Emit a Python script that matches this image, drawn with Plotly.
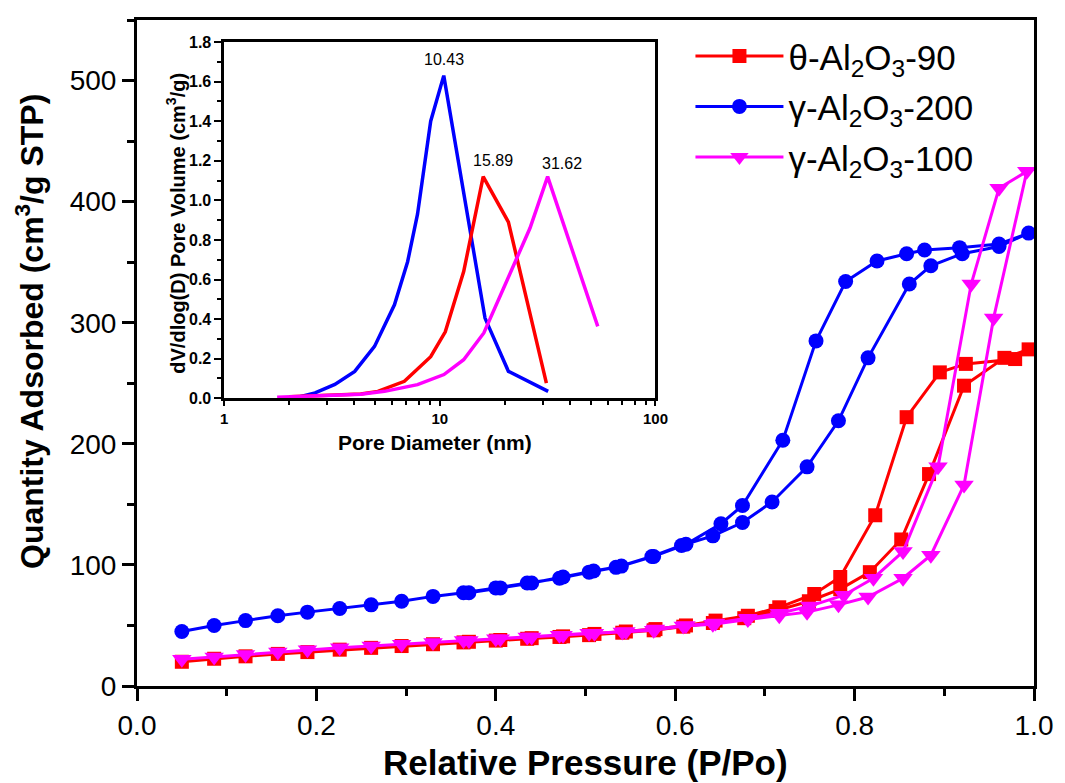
import plotly.graph_objects as go
import numpy as np

# ---------------- main isotherm data (P/Po, cm3/g STP) ----------------
theta90_ads_p = [0.050, 0.086, 0.121, 0.157, 0.190, 0.226, 0.261, 0.295, 0.330, 0.364, 0.400, 0.435, 0.471, 0.504,
                 0.541, 0.576, 0.609, 0.642, 0.677, 0.712, 0.749, 0.784, 0.817, 0.852, 0.883, 0.922, 0.967, 0.994]
theta90_ads_q = [20, 22.5, 24.5, 26.5, 28, 30, 31.5, 33, 34.5, 36, 37.5, 39, 40.5, 42,
                 44, 46, 49, 52, 56, 62, 70, 80, 94, 121, 175, 248, 271, 278]
theta90_des_p = [0.979, 0.924, 0.895, 0.858, 0.823, 0.784, 0.755, 0.716, 0.681, 0.645, 0.612, 0.578, 0.545,
                 0.510, 0.475, 0.440, 0.405, 0.370]
theta90_des_q = [270, 266, 259, 222, 141, 90, 76, 65, 58, 54, 50, 47, 45, 43, 41, 39.5, 38, 36.5]

gamma200_ads_p = [0.050, 0.086, 0.121, 0.157, 0.190, 0.226, 0.261, 0.295, 0.330, 0.364, 0.400, 0.435, 0.471, 0.504,
                  0.534, 0.574, 0.607, 0.642, 0.675, 0.708, 0.747, 0.782, 0.815, 0.861, 0.885, 0.920, 0.961, 0.994]
gamma200_ads_q = [45, 50, 54, 58, 61, 64, 67, 70, 74, 77, 81, 85, 89, 94,
                  98, 107, 116, 124, 135, 152, 181, 219, 271, 332, 347, 357, 363, 374]
gamma200_des_p = [0.961, 0.917, 0.878, 0.858, 0.825, 0.790, 0.757, 0.720, 0.675, 0.651, 0.612, 0.576, 0.540,
                  0.509, 0.475, 0.440, 0.405, 0.370]
gamma200_des_q = [365, 362, 360, 357, 351, 334, 285, 203, 149, 134, 117, 107, 99, 95, 90, 85, 81, 77]

gamma100_ads_p = [0.050, 0.086, 0.121, 0.157, 0.190, 0.226, 0.261, 0.295, 0.330, 0.364, 0.400, 0.435, 0.471, 0.504,
                  0.541, 0.576, 0.609, 0.642, 0.681, 0.716, 0.747, 0.782, 0.815, 0.854, 0.885, 0.922, 0.955, 0.992]
gamma100_ads_q = [22, 24, 26, 28, 30, 31.5, 33, 34.5, 36, 37.5, 39, 40.5, 42, 43.5,
                  44.5, 46, 49.5, 51, 55, 58, 61, 67, 73.5, 89, 108, 166, 304, 425]
gamma100_des_p = [0.961, 0.930, 0.893, 0.854, 0.821, 0.788, 0.750, 0.716, 0.681, 0.645, 0.612, 0.578, 0.545,
                  0.510, 0.475, 0.440, 0.405, 0.370]
gamma100_des_q = [411, 332, 181, 111, 89, 75, 66, 60, 56, 52, 50, 47, 45, 43.5, 42, 40.5, 39, 37.5]

# ---------------- inset pore size distribution ----------------
psd_d_gamma200 = [2.2, 2.64, 3.26, 4.03, 4.98, 6.16, 7.09, 7.88, 9.07, 10.43, 16.2, 20.8, 31.8]
psd_v_gamma200 = [0.005, 0.027, 0.07, 0.136, 0.262, 0.472, 0.69, 0.93, 1.40, 1.63, 0.405, 0.136, 0.035]
psd_d_theta90 = [2.0, 2.7, 3.5, 4.3, 5.16, 6.85, 9.07, 10.6, 12.9, 15.89, 20.8, 31.2]
psd_v_theta90 = [0.008, 0.012, 0.016, 0.022, 0.035, 0.086, 0.21, 0.336, 0.64, 1.12, 0.89, 0.077]
psd_d_gamma100 = [1.76, 3.0, 4.3, 5.54, 7.88, 10.45, 12.9, 16.0, 20.4, 26.2, 31.62, 54.0]
psd_v_gamma100 = [0.005, 0.012, 0.02, 0.035, 0.069, 0.12, 0.195, 0.33, 0.59, 0.86, 1.12, 0.363]
peak_d = [10.43, 15.89, 31.62]
peak_v = [1.63, 1.12, 1.12]

names = ["θ-Al<sub>2</sub>O<sub>3</sub>-90", "γ-Al<sub>2</sub>O<sub>3</sub>-200", "γ-Al<sub>2</sub>O<sub>3</sub>-100"]
colors = ["#FF0000", "#0000FF", "#FF00FF"]
symbols = ["square", "circle", "triangle-down"]
msizes = [14, 15, 17]

FONT = "Arial, 'Liberation Sans', sans-serif"

fig = go.Figure()

series = [
    (theta90_ads_p + theta90_des_p, theta90_ads_q + theta90_des_q),
    (gamma200_ads_p + gamma200_des_p, gamma200_ads_q + gamma200_des_q),
    (gamma100_ads_p + gamma100_des_p, gamma100_ads_q + gamma100_des_q),
]
for i, (px, qy) in enumerate(series):
    fig.add_trace(go.Scatter(
        x=px, y=qy, mode="lines+markers", name=names[i],
        line=dict(color=colors[i], width=3),
        marker=dict(symbol=symbols[i], size=msizes[i], color=colors[i], line=dict(width=0)),
        legendgroup=str(i), xaxis="x", yaxis="y"))

inset = [(psd_d_gamma200, psd_v_gamma200, 1), (psd_d_theta90, psd_v_theta90, 0), (psd_d_gamma100, psd_v_gamma100, 2)]
for d, v, ci in inset:
    fig.add_trace(go.Scatter(x=d, y=v, mode="lines", line=dict(color=colors[ci], width=3.5),
                             showlegend=False, xaxis="x2", yaxis="y2"))

annotations = []
label_shift = [(0, 6), (10, 6), (14, 3)]
for pd_, pv, (dx, dy) in zip(peak_d, peak_v, label_shift):
    annotations.append(dict(x=np.log10(pd_), y=pv, xref="x2", yref="y2", text=f"{pd_:.2f}",
                            showarrow=False, xanchor="center", yanchor="bottom", xshift=dx, yshift=dy,
                            font=dict(family=FONT, size=16, color="black")))

annotations += [
    dict(x=0.5, y=-0.115, xref="paper", yref="paper", text="Relative Pressure (P/Po)", showarrow=False,
         xanchor="center", yanchor="middle", font=dict(family=FONT, size=35, color="black", weight="bold")),
    dict(x=-0.1193, y=0.533, xref="paper", yref="paper", text="Quantity Adsorbed (cm<sup>3</sup>/g STP)",
         showarrow=False, textangle=-90, xanchor="center", yanchor="middle",
         font=dict(family=FONT, size=32, color="black", weight="bold")),
    dict(x=0.332, y=0.365, xref="paper", yref="paper", text="Pore Diameter (nm)", showarrow=False,
         xanchor="center", yanchor="middle", font=dict(family=FONT, size=21, color="black", weight="bold")),
    dict(x=0.043, y=0.695, xref="paper", yref="paper", text="dV/dlog(D) Pore Volume (cm<sup>3</sup>/g)",
         showarrow=False, textangle=-90, xanchor="center", yanchor="middle",
         font=dict(family=FONT, size=20, color="black", weight="bold")),
]

axis_common = dict(showline=True, linecolor="black", mirror=True, showgrid=False, zeroline=False,
                   ticks="outside", tickcolor="black")

fig.update_layout(
    width=1065, height=783,
    margin=dict(l=137, r=23, t=17, b=97),
    paper_bgcolor="white", plot_bgcolor="white",
    font=dict(family=FONT, color="black"),
    xaxis=dict(**axis_common, domain=[0, 1], range=[0, 1], linewidth=3, ticklen=12, tickwidth=2.5,
               tick0=0, dtick=0.2, tickformat=".1f", tickfont=dict(size=28, family=FONT),
               minor=dict(ticks="outside", dtick=0.1, ticklen=7, tickwidth=2.5, tickcolor="black")),
    yaxis=dict(**axis_common, domain=[0, 1], range=[0, 550], linewidth=3, ticklen=12, tickwidth=2.5,
               tick0=0, dtick=100, tickfont=dict(size=28, family=FONT),
               minor=dict(ticks="outside", dtick=50, ticklen=7, tickwidth=2.5, tickcolor="black")),
    xaxis2=dict(**axis_common, type="log", domain=[0.0972, 0.578], anchor="y2", range=[0, 2],
                linewidth=2.5, ticklen=5, tickwidth=2, dtick=1,
                tickfont=dict(size=15, family=FONT, weight="bold"),
                minor=dict(ticks="outside", dtick="D1", ticklen=4, tickwidth=2, tickcolor="black")),
    yaxis2=dict(**axis_common, domain=[0.432, 0.967], anchor="x2", range=[0, 1.8], linewidth=2.5,
                ticklen=7, tickwidth=2, tick0=0, dtick=0.2, tickformat=".1f",
                tickfont=dict(size=16, family=FONT, weight="bold"),
                minor=dict(ticks="outside", dtick=0.1, ticklen=4, tickwidth=2, tickcolor="black")),
    legend=dict(x=0.617, y=0.99, xanchor="left", yanchor="top", bgcolor="rgba(0,0,0,0)",
                font=dict(size=35, family=FONT, color="black"), itemwidth=88,
                traceorder="grouped", tracegroupgap=2),
    annotations=annotations,
)

fig.write_html("out.html")
